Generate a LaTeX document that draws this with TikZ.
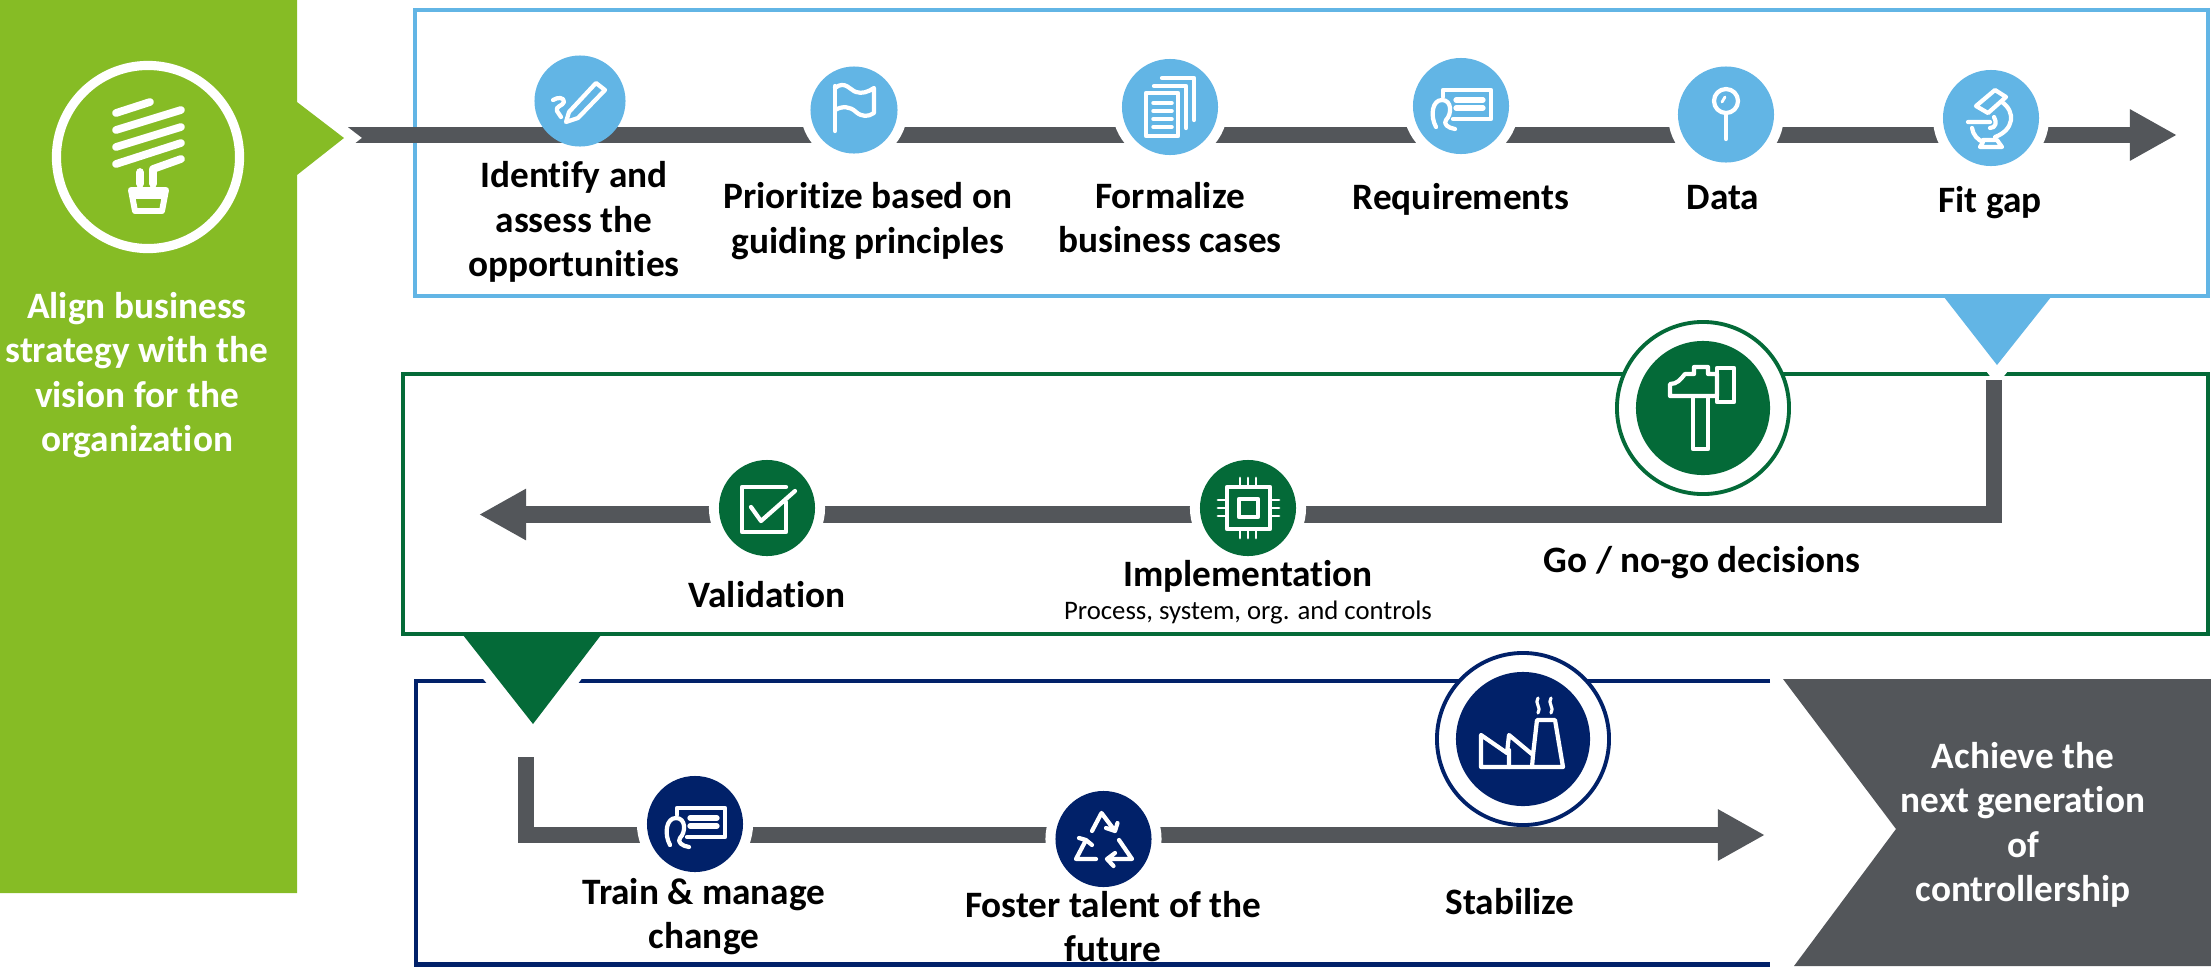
\documentclass[tikz,border=0pt]{standalone}
\usepackage{fontspec}
\setmainfont{Carlito}[Ligatures=NoCommon]
\usetikzlibrary{arrows.meta}
\definecolor{leaf}{HTML}{86BC25}
\definecolor{sky}{HTML}{62B5E5}
\definecolor{forest}{HTML}{046A38}
\definecolor{navy}{HTML}{012169}
\definecolor{slate}{HTML}{53565A}
\tikzset{
  flowbar/.style={draw=slate,line width=4.6pt,-{Triangle[length=.47cm,width=.48cm]}},
  frame/.style={line width=1.25pt},
  halo/.style={draw=white,line width=#1},
  stepdot/.style={circle,inner sep=0pt,minimum size=.96cm,fill=#1,preaction={draw=white,line width=5.7pt}},
  bigring/.style={circle,inner sep=0pt,minimum size=1.72cm,fill=white,draw=#1,line width=1.1pt},
  bigdot/.style={circle,inner sep=0pt,minimum size=1.34cm,fill=#1},
  icon/.style={draw=white,line width=1.2pt,line cap=round,line join=round},
  lbl/.style={anchor=base,align=center,inner sep=0pt,font=\fontsize{10.6}{12.65}\selectfont\bfseries},
  lblw/.style={lbl,text=white},
  pics/reqicon/.style={code={
    \draw[icon] (-18,-9) -- (-18,-16) -- (30,-16) -- (30,13) -- (-8,13);
    \draw[icon,line width=1.5pt] (-5,-6) -- (22,-6) (-5,2) -- (22,2);
    \draw[icon] (-25,21) .. controls (-31,10) and (-29,-6) .. (-19,-6) .. controls (-9,-6) and (-9,8) .. (-15,14) .. controls (-18,18) and (-13,22) .. (-6,23);
  }}
}
\begin{document}
\begin{tikzpicture}[x=.01cm,y=-.01cm]
  \useasboundingbox (0,0) rectangle (2211,966);
  % boxes and the pointers between them
  \draw[navy,frame] (1770,681) -- (416,681) -- (416,964.5) -- (1770,964.5);
  \draw[halo=6pt] (463,637) -- (533,724) -- (601,637);
  \draw[forest,frame] (403,374) rectangle (2208,634);
  \fill[forest] (463,635) -- (533,724) -- (601,635) -- cycle;
  \draw[halo=7pt] (1944,296) -- (1997,365) -- (2051,296);
  \draw[sky,frame] (415,10) rectangle (2208,296);
  \fill[sky] (1944,297) -- (1997,365) -- (2051,297) -- cycle;
  \fill[slate] (1783,679) -- (2211,679) -- (2211,966) -- (1794,966) -- (1896,829) -- cycle;
  % flow lines
  \coordinate (S1) at (340,135);
  \coordinate (T1) at (2177,135);
  \coordinate (S2) at (1994,380);
  \coordinate (K2) at (1994,514.5);
  \coordinate (T2) at (479,514.5);
  \coordinate (S3) at (526,757);
  \coordinate (K3) at (526,835);
  \coordinate (T3) at (1765,835);
  \draw[flowbar] (S1) -- (T1);
  \draw[flowbar] (S2) -- (K2) -- (T2);
  \draw[flowbar] (S3) -- (K3) -- (T3);
  % start panel
  \draw[halo=6.2pt] (297,102) -- (344,138) -- (297,175);
  \fill[leaf] (0,0) -- (297,0) -- (297,102) -- (344,138) -- (297,175) -- (297,893) -- (0,893) -- cycle;
  \node[circle,draw=white,line width=2.6pt,minimum size=1.83cm,inner sep=0pt] (bulb) at (148,157) {};
  \draw[icon,line width=2.2pt] (116,113) -- (150,102) (116,130) -- (181,110) (116,147) -- (181,127) (116,164) -- (181,143);
  \draw[icon,line width=2.2pt] (153,184) -- (153,169) -- (181,159) (140,184) -- (140,172);
  \draw[icon,line width=1.7pt] (131,190) -- (166,190) -- (162,211) -- (135,211) -- cycle (133,196) -- (164,196);
  \node[lblw] (align) at (137,451.5) {Align business\\strategy with the\\vision for the\\organization};
  % first row
  \node[circle,inner sep=0pt,minimum size=.91cm,fill=sky] (C1) at (580,101) {};
  \node[stepdot=sky,minimum size=.87cm] (C2) at (854,110) {};
  \node[stepdot=sky] (C3) at (1170,107) {};
  \node[stepdot=sky] (C4) at (1461,106) {};
  \node[stepdot=sky] (C5) at (1726,114.5) {};
  \node[stepdot=sky] (C6) at (1991,118) {};
  \draw[icon] (553,100) .. controls (558,97) and (564,97) .. (564,102) .. controls (563,106) and (555,106) .. (557,111) -- (561,117);
  \draw[icon] (566,122) -- (569,112) -- (596,83) -- (605,90) -- (578,118) -- cycle;
  \draw[icon] (835,131) -- (835,86);
  \draw[icon] (835,88) .. controls (845,80) and (850,90) .. (856,92) .. controls (862,94) and (868,92) .. (874,88) -- (874,113) .. controls (868,117) and (862,117) .. (856,112) .. controls (850,106) and (842,106) .. (835,110);
  \draw[icon] (1146,93) rectangle (1178,136);
  \draw[icon] (1154,86) -- (1186,86) -- (1186,128) (1162,78) -- (1194,78) -- (1194,120);
  \draw[icon,line width=1pt] (1153,103) -- (1172,103) (1153,111) -- (1172,111) (1153,119) -- (1172,119) (1153,127) -- (1172,127);
  \pic at (1461,106) {reqicon};
  \draw[icon] (1726,101) circle (12);
  \draw[icon] (1726,113) -- (1726,139);
  \draw[icon,line width=.8pt] (1722,102) -- (1725,97);
  \draw[icon] (1976,106) -- (1995,90) -- (2006,97) -- (1988,113) -- cycle;
  \draw[icon] (2002,102) .. controls (2016,112) and (2014,130) .. (1995,137);
  \draw[icon] (1968,122) -- (1990,122) (1990,128) .. controls (1996,128) and (1997,122) .. (1994,117);
  \draw[icon] (1972,128) .. controls (1973,135) and (1978,140) .. (1983,142) -- (1980,147) -- (2002,147) -- (1997,140) -- (1983,140);
  \node[lbl] (L1) at (574,276.5) {Identify and\\assess the\\opportunities};
  \node[lbl] (L2) at (868,253) {Prioritize based on\\guiding principles};
  \node[lbl] (L3) at (1170,252.5) {Formalize\\business cases};
  \node[lbl] (L4) at (1461,209.5) {Requirements};
  \node[lbl] (L5) at (1723,209.5) {Data};
  \node[lbl] (L6) at (1990,212.5) {Fit gap};
  % second row
  \node[bigring=forest] (R1) at (1703,408) {};
  \node[bigdot=forest] (D1) at (1703,408) {};
  \node[stepdot=forest] (C7) at (1248,508) {};
  \node[stepdot=forest] (C8) at (767,508) {};
  \draw[icon] (1670,396) -- (1670,384) .. controls (1677,384) and (1680,380) .. (1685,374) -- (1694,374) -- (1694,367) -- (1708,367) -- (1708,374) -- (1717,374) -- (1717,396) -- cycle;
  \draw[icon] (1717,368) rectangle (1734,402);
  \draw[icon] (1693,396) rectangle (1708,449);
  \draw[icon] (1227,487) rectangle (1270,529) (1239,499) rectangle (1258,517);
  \foreach \px in {1240,1248,1256} {
    \draw[icon,line width=.8pt] (\px,478) -- (\px,486) (\px,531) -- (\px,538);
  }
  \foreach \py in {500,508,516} {
    \draw[icon,line width=.8pt] (1218,\py) -- (1226,\py) (1271,\py) -- (1279,\py);
  }
  \draw[icon] (786,502) -- (786,532) -- (742,532) -- (742,487) -- (786,487);
  \draw[icon] (751,507) -- (761,521) -- (795,491);
  \node[lbl] (L7) at (1702,572) {Go / no-go decisions};
  \node[lbl] (L8) at (1248,586) {Implementation};
  \node[anchor=base,inner sep=0pt,font=\fontsize{7.6}{8}\selectfont] (L9) at (1248,619) {Process, system, org. and controls};
  \node[lbl] (L10) at (767,607) {Validation};
  % third row
  \node[bigring=navy] (R2) at (1523,739) {};
  \node[bigdot=navy] (D2) at (1523,739) {};
  \node[stepdot=navy] (C9) at (695,824) {};
  \node[stepdot=navy] (C10) at (1103.5,839) {};
  \pic at (695,824) {reqicon};
  \draw[icon] (1092,831) -- (1101.5,813) -- (1115,831) (1106,828) -- (1115,831) -- (1117.5,823);
  \draw[icon] (1096,859) -- (1076,859) -- (1086,840) (1079,838) -- (1086,840) -- (1092,845);
  \draw[icon] (1119,840) -- (1132,859) -- (1107,859) (1115,853) -- (1107,859) -- (1113.5,866);
  \draw[icon] (1481,767) -- (1481,735) -- (1507,753) -- (1509,735) -- (1533,755) -- (1537,720) -- (1555,720) -- (1563,767) -- cycle;
  \draw[icon] (1509,750) -- (1509,767) (1533,755) -- (1532,767);
  \draw[icon,line width=.9pt] (1538,698) .. controls (1534,703) and (1542,708) .. (1538,713) (1551,698) .. controls (1547,703) and (1555,708) .. (1551,713);
  \node[lbl] (L11) at (704,948.5) {Train \& manage\\change};
  \node[lbl] (L12) at (1113,961.5) {Foster talent of the\\future};
  \node[lbl] (L13) at (1510,914.5) {Stabilize};
  \node[lblw] (goal) at (2023,901.5) {Achieve the\\next generation\\of\\controllership};
\end{tikzpicture}
\end{document}
